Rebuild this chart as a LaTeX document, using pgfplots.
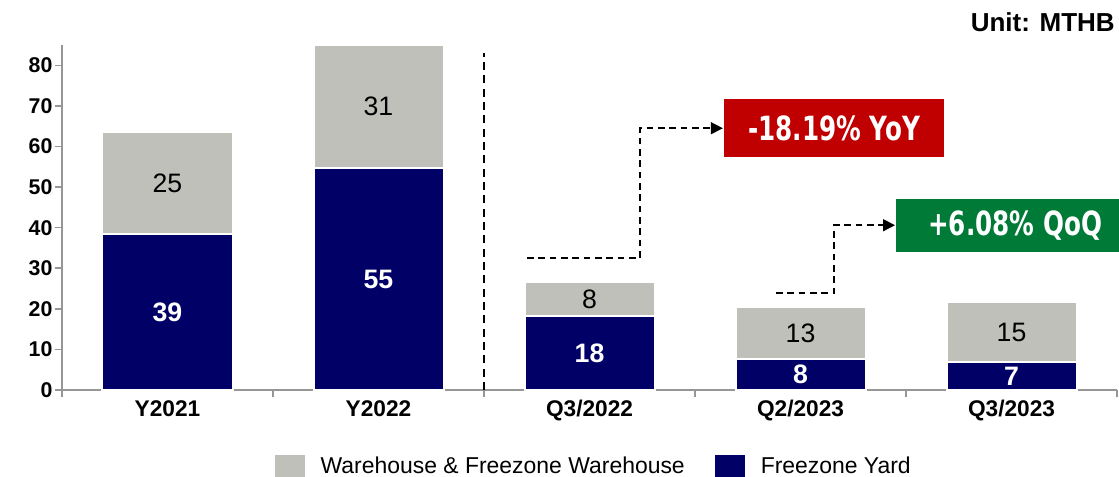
\documentclass[border=0pt]{standalone}
\usepackage{fontspec}
\setmainfont{Liberation Sans}
\newfontfamily\callfont[FakeStretch=0.74]{DejaVu Sans}
\usepackage{pgfplots}
\pgfplotsset{compat=1.18}
\usetikzlibrary{arrows.meta}

\definecolor{navy}{RGB}{0,0,102}
\definecolor{warm}{RGB}{192,192,187}
\definecolor{redbox}{RGB}{192,0,0}
\definecolor{greenbox}{RGB}{0,122,55}
\definecolor{axgray}{RGB}{150,150,150}

\pgfplotsset{
  legsq/.style={legend image code/.code={\fill[##1,draw=none] (0pt,-8.25pt) rectangle (22.5pt,8.25pt);}},
}

\begin{document}
\begin{tikzpicture}
\begin{axis}[
  at={(0,0)}, anchor=south west,
  scale only axis, width=791.25pt, height=258.75pt,
  xmin=-0.5, xmax=4.5, ymin=0, ymax=85,
  ybar stacked, bar width=97.5pt,
  axis x line*=bottom, axis y line*=left,
  axis line style={axgray, line width=1.2pt},
  xtick={-0.5,0.5,...,4.5}, xticklabels={},
  extra x ticks={0,1,2,3,4},
  extra x tick labels={Y2021,Y2022,Q3/2022,Q2/2023,Q3/2023},
  extra x tick style={major tick length=0pt, tick style={draw=none}},
  ytick={0,10,...,80},
  tick align=outside, major tick length=5.5pt,
  tick style={axgray, line width=1.2pt},
  xticklabel style={font=\fontsize{17}{20}\selectfont\bfseries, inner sep=0pt, yshift=-7.5pt},
  yticklabel style={font=\fontsize{16}{19}\selectfont\bfseries, inner sep=0pt, xshift=-1.5pt},
  /pgf/number format/assume math mode=true,
  clip=false,
  legend columns=2, reverse legend,
  legend style={at={(axis description cs:0.2019,-0.2203)}, anchor=west,
    draw=none, fill=none, inner sep=0pt,
    font=\fontsize{17.2}{20}\selectfont,
    nodes={inner sep=0pt},
    /tikz/every odd column/.append style={column sep=11.5pt},
    /tikz/every even column/.append style={column sep=23pt}},
]
% Freezone Yard
\addplot[fill=navy, draw=white, line width=1.5pt, legsq,
  nodes near coords, point meta=explicit symbolic,
  every node near coord/.append style={anchor=center, text=white,
    font=\fontsize{20}{23}\selectfont\bfseries}]
  coordinates {(0,38.5) [39] (1,54.6) [55] (2,18.2) [18] (3,7.7) [8] (4,6.9) [7]};
% Warehouse & Freezone Warehouse
\addplot[fill=warm, draw=white, line width=1.5pt, legsq,
  nodes near coords, point meta=explicit symbolic,
  every node near coord/.append style={anchor=center, text=black,
    font=\fontsize{20}{23}\selectfont}]
  coordinates {(0,25.0) [25] (1,30.4) [31] (2,8.4) [8] (3,12.7) [13] (4,14.8) [15]};
\legend{Freezone Yard, Warehouse \& Freezone Warehouse}

\draw[black, line width=1.1pt, dash pattern=on 6pt off 4pt] (axis cs:1.5,0) -- (axis cs:1.5,83);

\node[fill=redbox, text=white, minimum width=165pt, minimum height=43.5pt, inner sep=0pt,
  anchor=west, font=\callfont\bfseries\fontsize{25}{29}\selectfont] at (axis cs:2.637,64.5) {-18.19\% YoY};
\draw[black, line width=1.1pt, dash pattern=on 5pt off 3.5pt, -{Triangle[length=9pt,width=9pt]}]
  (axis cs:1.704,32.5) -| (axis cs:2.239,64.5) -- (axis cs:2.632,64.5);

\node[fill=greenbox, text=white, minimum width=178.5pt, minimum height=39.75pt, inner sep=0pt,
  anchor=west, font=\callfont\bfseries\fontsize{25}{29}\selectfont] at (axis cs:3.452,40.6) {+6.08\% QoQ};
\draw[black, line width=1.1pt, dash pattern=on 5pt off 3.5pt, -{Triangle[length=9pt,width=9pt]}]
  (axis cs:2.884,23.9) -| (axis cs:3.159,40.6) -- (axis cs:3.448,40.6);
\end{axis}
\node[anchor=north east, inner sep=0pt, font=\bfseries\fontsize{19.5}{22}\selectfont] at (789.75pt,283.5pt) {Unit: MTHB};
\pgfresetboundingbox
\useasboundingbox (-46.5pt,-64.5pt) rectangle (792.75pt,292.5pt);
\end{tikzpicture}
\end{document}
